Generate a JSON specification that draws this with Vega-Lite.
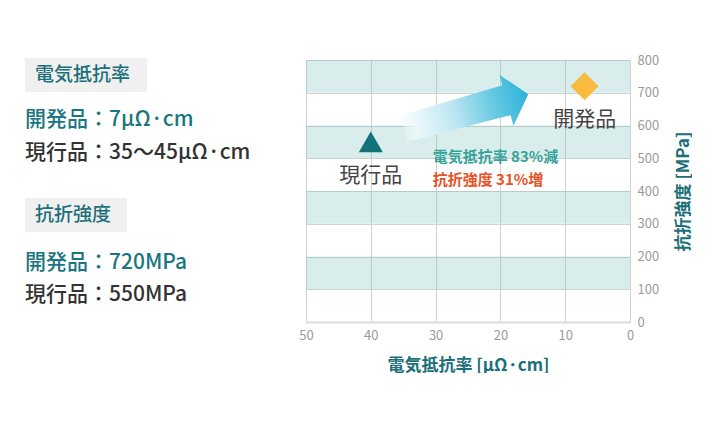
{
  "$schema": "https://vega.github.io/schema/vega-lite/v6.json",
  "background": "#ffffff",
  "padding": {"left": 0, "top": 54, "right": 0, "bottom": 0},
  "bounds": "flush",
  "spacing": 16,
  "datasets": {
    "headings": [
      {"heading": "電気抵抗率", "left": 25, "right": 147, "top": -2, "bottom": 32, "mid": 15},
      {"heading": "抗折強度", "left": 25, "right": 127, "top": 138, "bottom": 172, "mid": 155}
    ],
    "lines": [
      {"line": "開発品：7μΩ·cm", "kind": "開発品", "pos": 60},
      {"line": "現行品：35～45μΩ·cm", "kind": "現行品", "pos": 93},
      {"line": "開発品：720MPa", "kind": "開発品", "pos": 203},
      {"line": "現行品：550MPa", "kind": "現行品", "pos": 235}
    ],
    "bands": [
      {"lo": 100, "hi": 200},
      {"lo": 300, "hi": 400},
      {"lo": 500, "hi": 600},
      {"lo": 700, "hi": 800}
    ],
    "products": [
      {"name": "現行品", "resistivity": 40, "strength": 550},
      {"name": "開発品", "resistivity": 7, "strength": 720}
    ],
    "arrow": [
      {"resistivity": 25.3, "strength": 643}
    ],
    "notes": [
      {"note": "電気抵抗率 83%減", "effect": "resistivity", "resistivity": 30.45, "strength": 503},
      {"note": "抗折強度 31%増", "effect": "strength", "resistivity": 30.45, "strength": 434}
    ]
  },
  "hconcat": [
    {
      "width": 290,
      "height": 262,
      "layer": [
        {
          "data": {"name": "headings"},
          "mark": {"type": "rect", "color": "#f0f0f0"},
          "encoding": {
            "x": {"field": "left", "type": "quantitative", "scale": {"domain": [0, 290]}, "axis": null},
            "x2": {"field": "right"},
            "y": {"field": "top", "type": "quantitative", "scale": {"domain": [0, 262], "reverse": true}, "axis": null},
            "y2": {"field": "bottom"}
          }
        },
        {
          "data": {"name": "headings"},
          "mark": {"type": "text", "align": "left", "dx": 10, "fontSize": 19, "fontWeight": 500, "color": "#1b6f79"},
          "encoding": {
            "x": {"field": "left", "type": "quantitative", "scale": {"domain": [0, 290]}, "axis": null},
            "y": {"field": "mid", "type": "quantitative", "scale": {"domain": [0, 262], "reverse": true}, "axis": null},
            "text": {"field": "heading"}
          }
        },
        {
          "data": {"name": "lines"},
          "mark": {"type": "text", "align": "left", "fontSize": 21, "fontWeight": 500},
          "encoding": {
            "x": {"datum": 25, "type": "quantitative", "scale": {"domain": [0, 290]}, "axis": null},
            "y": {"field": "pos", "type": "quantitative", "scale": {"domain": [0, 262], "reverse": true}, "axis": null},
            "text": {"field": "line"},
            "color": {"field": "kind", "type": "nominal", "scale": {"domain": ["開発品", "現行品"], "range": ["#1a7680", "#333333"]}, "legend": null}
          }
        }
      ]
    },
    {
      "width": 324,
      "height": 262,
      "layer": [
        {
          "data": {"name": "bands"},
          "mark": {"type": "rect", "color": "#67bdb4", "opacity": 0.25},
          "encoding": {
            "y": {"field": "lo", "type": "quantitative", "scale": {"domain": [0, 800]}, "axis": {"orient": "right", "titleAngle": 270, "titleBaseline": "top"}, "title": "抗折強度 [MPa]"},
            "y2": {"field": "hi"}
          }
        },
        {
          "data": {"name": "arrow"},
          "mark": {
            "type": "point",
            "shape": "M -1 -0.21 L 0.65 -0.24 L 0.65 -0.41 L 1 0 L 0.65 0.41 L 0.65 0.24 L -1 0.21 Z",
            "size": 16641,
            "angle": 344.5,
            "filled": true,
            "opacity": 1,
            "strokeWidth": 0,
            "fill": {
              "gradient": "linear",
              "x1": 0, "y1": 0, "x2": 1, "y2": 0,
              "stops": [
                {"offset": 0, "color": "rgba(236,248,252,0.4)"},
                {"offset": 0.1, "color": "rgba(236,248,252,0.95)"},
                {"offset": 0.4, "color": "#bde6f1"},
                {"offset": 0.7, "color": "#6ccbe3"},
                {"offset": 1, "color": "#2ab3d8"}
              ]
            }
          },
          "encoding": {
            "x": {"field": "resistivity", "type": "quantitative", "scale": {"domain": [0, 50], "reverse": true}, "title": "電気抵抗率 [μΩ·cm]"},
            "y": {"field": "strength", "type": "quantitative", "scale": {"domain": [0, 800]}, "axis": {"orient": "right", "titleAngle": 270, "titleBaseline": "top"}, "title": "抗折強度 [MPa]"}
          }
        },
        {
          "data": {"name": "products"},
          "transform": [{"filter": "datum.name === '現行品'"}],
          "mark": {"type": "point", "shape": "triangle-up", "filled": true, "size": 576, "color": "#13717a", "opacity": 1, "strokeWidth": 0},
          "encoding": {
            "x": {"field": "resistivity", "type": "quantitative", "scale": {"domain": [0, 50], "reverse": true}, "title": "電気抵抗率 [μΩ·cm]"},
            "y": {"field": "strength", "type": "quantitative", "scale": {"domain": [0, 800]}, "axis": {"orient": "right", "titleAngle": 270, "titleBaseline": "top"}, "title": "抗折強度 [MPa]"}
          }
        },
        {
          "data": {"name": "products"},
          "transform": [{"filter": "datum.name === '開発品'"}],
          "mark": {"type": "point", "shape": "diamond", "filled": true, "size": 784, "color": "#f8ba3f", "opacity": 1, "strokeWidth": 0},
          "encoding": {
            "x": {"field": "resistivity", "type": "quantitative", "scale": {"domain": [0, 50], "reverse": true}, "title": "電気抵抗率 [μΩ·cm]"},
            "y": {"field": "strength", "type": "quantitative", "scale": {"domain": [0, 800]}, "axis": {"orient": "right", "titleAngle": 270, "titleBaseline": "top"}, "title": "抗折強度 [MPa]"}
          }
        },
        {
          "data": {"name": "products"},
          "mark": {"type": "text", "dy": 34, "fontSize": 21, "color": "#444444"},
          "encoding": {
            "x": {"field": "resistivity", "type": "quantitative", "scale": {"domain": [0, 50], "reverse": true}, "title": "電気抵抗率 [μΩ·cm]"},
            "y": {"field": "strength", "type": "quantitative", "scale": {"domain": [0, 800]}, "axis": {"orient": "right", "titleAngle": 270, "titleBaseline": "top"}, "title": "抗折強度 [MPa]"},
            "text": {"field": "name"}
          }
        },
        {
          "data": {"name": "notes"},
          "mark": {"type": "text", "align": "left", "fontSize": 15, "fontWeight": "bold"},
          "encoding": {
            "x": {"field": "resistivity", "type": "quantitative", "scale": {"domain": [0, 50], "reverse": true}, "title": "電気抵抗率 [μΩ·cm]"},
            "y": {"field": "strength", "type": "quantitative", "scale": {"domain": [0, 800]}, "axis": {"orient": "right", "titleAngle": 270, "titleBaseline": "top"}, "title": "抗折強度 [MPa]"},
            "text": {"field": "note"},
            "color": {"field": "effect", "type": "nominal", "scale": {"domain": ["resistivity", "strength"], "range": ["#36a39a", "#e8532a"]}, "legend": null}
          }
        }
      ]
    }
  ],
  "resolve": {"scale": {"x": "independent", "y": "independent", "color": "independent"}},
  "config": {
    "font": "Noto Sans CJK JP",
    "view": {"stroke": null},
    "axis": {
      "labelFont": "Noto Sans CJK JP",
      "titleFont": "Noto Sans CJK JP",
      "labelColor": "#9b9b9b",
      "labelFontSize": 13,
      "labelFlush": false,
      "ticks": false,
      "gridColor": "#d2d2d2",
      "titleColor": "#1b6f79",
      "titleFontSize": 17,
      "titleFontWeight": "bold",
      "titleLimit": 400
    },
    "axisX": {"tickCount": 5, "domainColor": "#dcdcdc", "domainWidth": 2, "labelPadding": 7, "titlePadding": 15},
    "axisY": {"tickCount": 8, "domain": false, "labelPadding": 7, "titlePadding": 17}
  }
}
